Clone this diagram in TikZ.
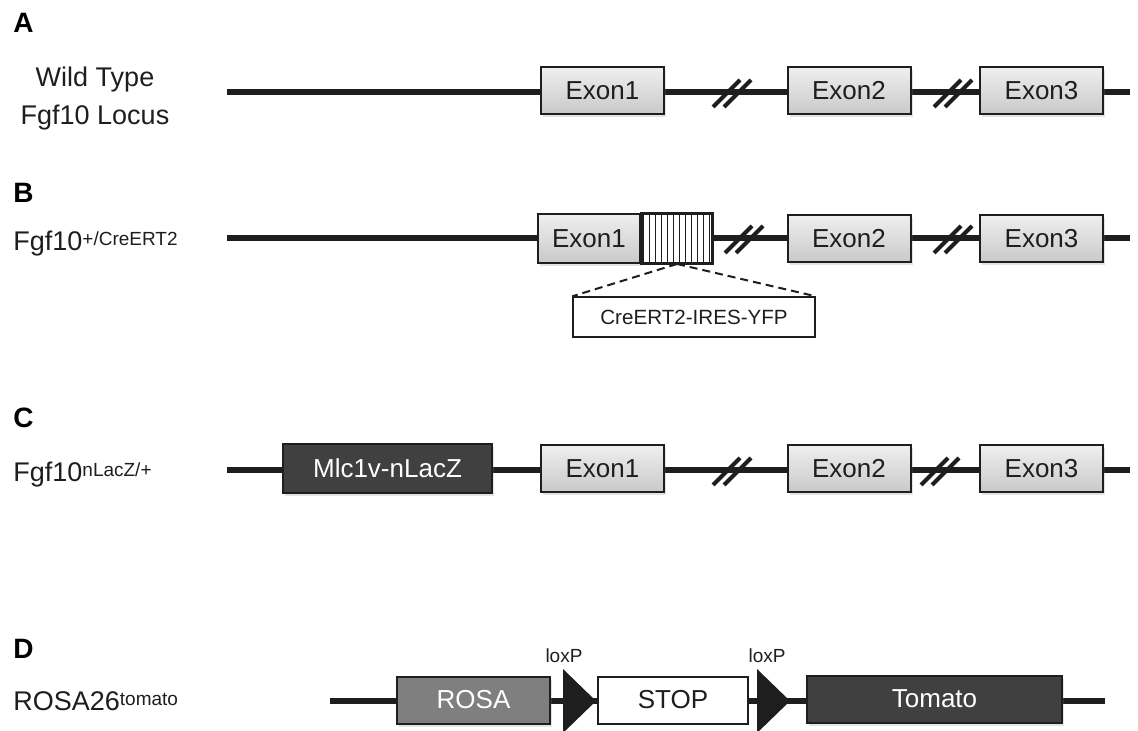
\documentclass[tikz,border=0pt]{standalone}
\usepackage{fontspec}
\setmainfont{Liberation Sans}
\usetikzlibrary{positioning,calc,shadows,patterns}
\definecolor{ink}{HTML}{1E1E1E}
\definecolor{darkbox}{HTML}{404040}
\definecolor{midbox}{HTML}{7F7F7F}
\definecolor{exontop}{HTML}{EFEFEF}
\definecolor{exonbot}{HTML}{C9C9C9}

\newcommand{\supx}[1]{\raisebox{2.5pt}{\fontsize{9.5}{11}\selectfont #1}}
\newcommand{\gapmark}[1]{%
  \draw[gap] ([shift={(-19,15)}]#1) -- ++(27,-27);
  \draw[gap] ([shift={(-8,15)}]#1) -- ++(27,-27);}
\newcommand{\loxmark}[1]{%
  \fill[ink] ([shift={(0,-32)}]#1) -- ([shift={(0,32)}]#1) -- ([shift={(33,0)}]#1) -- cycle;}

\begin{document}
\begin{tikzpicture}[x=.5pt,y=-.5pt,
  bb/.style={draw=ink,line width=1pt,inner sep=0pt,minimum height=23.5pt,font=\fontsize{13}{15}\selectfont},
  shade/.style={drop shadow={opacity=.22,shadow xshift=1pt,shadow yshift=-1.5pt}},
  exon/.style={bb,shade,top color=exontop,bottom color=exonbot,minimum width=61.5pt,text=ink},
  dark/.style={bb,shade,fill=darkbox,text=white},
  dna/.style={ink,line width=3pt},
  gap/.style={ink,line width=2pt},
  lab/.style={font=\fontsize{13.5}{16}\selectfont,anchor=base west,inner sep=0pt,text=ink},
  panel/.style={font=\fontsize{14}{16}\selectfont\bfseries,anchor=base west,inner sep=0pt},
  small/.style={font=\fontsize{9.5}{11}\selectfont,text=ink,inner sep=0pt}]
  \useasboundingbox (0,0) rectangle (1138,731);

  % A: wild type locus
  \node[panel] (pA) at (13,33) {A};
  \node[lab,anchor=base] (wt1) at (95,87) {Wild Type};
  \node[lab,anchor=base] (wt2) at (95,125) {Fgf10 Locus};
  \coordinate (a0) at (227,92);
  \coordinate (a1) at (1130,92);
  \draw[dna] (a0) -- (a1);
  \coordinate (gA1) at (732,92);
  \coordinate (gA2) at (953,92);
  \gapmark{gA1}
  \gapmark{gA2}
  \node[exon] (exA1) at (602.5,90.5) {Exon1};
  \node[exon] (exA2) at (849,90.5) {Exon2};
  \node[exon] (exA3) at (1041.5,90.5) {Exon3};

  % B: CreERT2 knock-in
  \node[panel] (pB) at (13,203) {B};
  \node[lab] (lbB) at (13,251) {Fgf10\supx{+/CreERT2}};
  \coordinate (b0) at (227,238);
  \coordinate (b1) at (1130,238);
  \draw[dna] (b0) -- (b1);
  \coordinate (gB1) at (744,238);
  \coordinate (gB2) at (953,238);
  \gapmark{gB1}
  \gapmark{gB2}
  \node[exon,minimum width=51pt,minimum height=24.5pt] (exB1) at (589,238.5) {Exon1};
  \node[draw=ink,line width=1pt,inner sep=0pt,fill=white,minimum width=35pt,minimum height=24.5pt,right=0pt of exB1] (cre) {};
  \fill[pattern=vertical lines,pattern color=ink] (cre.south west) rectangle (cre.north east);
  \draw[ink,line width=1pt] (cre.south west) rectangle (cre.north east);
  \node[exon] (exB2) at (849,238.5) {Exon2};
  \node[exon] (exB3) at (1041.5,238.5) {Exon3};
  \node[draw=ink,line width=.7pt,small,font=\fontsize{10.3}{12}\selectfont,minimum width=121pt,minimum height=20pt] (ins) at (694,317) {CreERT2-IRES-YFP\hspace{7pt}};
  \draw[ink,line width=1pt,dash pattern=on 4pt off 2.5pt] (cre.south) -- (ins.north west);
  \draw[ink,line width=1pt,dash pattern=on 4pt off 2.5pt] (cre.south) -- (ins.north east);

  % C: nLacZ reporter
  \node[panel] (pC) at (13,427) {C};
  \node[lab] (lbC) at (13,481) {Fgf10\supx{nLacZ/+}};
  \coordinate (c0) at (227,470);
  \coordinate (c1) at (1130,470);
  \draw[dna] (c0) -- (c1);
  \coordinate (gC1) at (732,470);
  \coordinate (gC2) at (940,470);
  \gapmark{gC1}
  \gapmark{gC2}
  \node[dark,minimum width=104.5pt,minimum height=24.5pt] (mlc) at (387.5,468.5) {Mlc1v-nLacZ};
  \node[exon] (exC1) at (602.5,468.5) {Exon1};
  \node[exon] (exC2) at (849,468.5) {Exon2};
  \node[exon] (exC3) at (1041.5,468.5) {Exon3};

  % D: ROSA26 tomato reporter
  \node[panel] (pD) at (13,658) {D};
  \node[lab] (lbD) at (13,710) {ROSA26\supx{tomato}};
  \coordinate (d0) at (330,701);
  \coordinate (d1) at (1105,701);
  \draw[dna] (d0) -- (d1);
  \coordinate (lx1) at (563,701);
  \coordinate (lx2) at (757,701);
  \loxmark{lx1}
  \loxmark{lx2}
  \node[small,anchor=base] (lp1) at (564,662) {loxP};
  \node[small,anchor=base] (lp2) at (767,662) {loxP};
  \node[bb,shade,fill=midbox,text=white,minimum width=76.5pt] (rosa) at (473.5,700) {ROSA};
  \node[bb,fill=white,text=ink,minimum width=75pt] (stop) at (673,700) {STOP};
  \node[dark,minimum width=127.5pt] (tom) at (934.5,699) {Tomato};
\end{tikzpicture}
\end{document}
